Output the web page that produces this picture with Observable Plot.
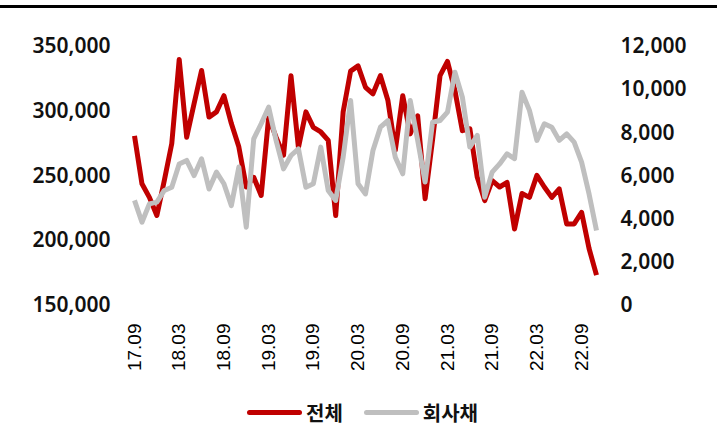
<!DOCTYPE html>
<html>
<head>
<meta charset="utf-8">
<script src="https://cdn.jsdelivr.net/npm/d3@7"></script>
<script src="https://cdn.jsdelivr.net/npm/@observablehq/plot@0.6"></script>
<style>
  html, body { margin: 0; padding: 0; background: #fff; }
  #wrap { position: relative; width: 717px; height: 436px; overflow: hidden; background: #fff; }
  #topline { position: absolute; left: 0; top: 5px; width: 717px; height: 3px; background: #000; }
  #chart svg { display: block; }
  #legend { position: absolute; left: 4px; top: 390px; width: 717px; height: 44px; display: flex; justify-content: center; align-items: center; font-family: "Noto Sans CJK KR", "Noto Sans", sans-serif; font-weight: 700; font-size: 20px; color: #111; }
  .item { display: flex; align-items: center; }
  .sw { width: 55px; height: 5px; border-radius: 3px; margin-right: 4px; }
</style>
</head>
<body>
<div id="wrap">
  <div id="chart"></div>
  <div id="topline"></div>
  <div id="legend"></div>
</div>
<script>
const months = [
  "17.09","17.10","17.11","17.12",
  "18.01","18.02","18.03","18.04","18.05","18.06","18.07","18.08","18.09","18.10","18.11","18.12",
  "19.01","19.02","19.03","19.04","19.05","19.06","19.07","19.08","19.09","19.10","19.11","19.12",
  "20.01","20.02","20.03","20.04","20.05","20.06","20.07","20.08","20.09","20.10","20.11","20.12",
  "21.01","21.02","21.03","21.04","21.05","21.06","21.07","21.08","21.09","21.10","21.11","21.12",
  "22.01","22.02","22.03","22.04","22.05","22.06","22.07","22.08","22.09","22.10","22.11"
];
const xTicks = ["17.09","18.03","18.09","19.03","19.09","20.03","20.09","21.03","21.09","22.03","22.09"];

// 전체 (left axis)
const total = [
  281000, 244000, 233500, 219500, 246500, 275000, 340000, 280000, 306000, 331500,
  295500, 299500, 312000, 290500, 272500, 241500, 249000, 235000, 295000, 280000,
  266000, 327500, 272000, 299500, 287500, 284000, 277500, 219500, 299500, 331000,
  335000, 318500, 313500, 327500, 308500, 270000, 312000, 282500, 296500, 232500,
  278000, 327500, 338500, 316000, 285000, 286500, 249000, 231000, 246500, 241500,
  245000, 209000, 236500, 233500, 250500, 241500, 233500, 240000, 213000, 213000,
  222000, 194000, 173500
];
// 회사채 (right axis)
const corp = [
  4870, 3860, 4710, 4790, 5330, 5480, 6560, 6720, 6020, 6800,
  5400, 6180, 5640, 4630, 6410, 3630, 7720, 8420, 9190, 7650,
  6330, 6950, 7260, 5480, 5640, 7340, 5330, 4870, 6870, 9500,
  5640, 5170, 7180, 8260, 8570, 6870, 6100, 9500, 7650, 5720,
  8490, 8570, 8960, 10810, 9650, 7340, 7880, 5020, 6180, 6560,
  7030, 6800, 9880, 9040, 7650, 8420, 8260, 7650, 7950, 7570,
  6640, 5170, 3480
];

const leftTicks = [150000, 200000, 250000, 300000, 350000];
const rightTicks = [0, 2000, 4000, 6000, 8000, 10000, 12000];
const leftDomain = [150000, 350000];
const rightDomain = [0, 12000];

const toLeft = v => leftDomain[0] + (v - rightDomain[0]) * (leftDomain[1] - leftDomain[0]) / (rightDomain[1] - rightDomain[0]);
const toRight = v => rightDomain[0] + (v - leftDomain[0]) * (rightDomain[1] - rightDomain[0]) / (leftDomain[1] - leftDomain[0]);
const fmt = d3.format(",");

const totalData = total.map((v, i) => ({m: months[i], v}));
const corpData = corp.map((v, i) => ({m: months[i], v: toLeft(v)}));

const numFont = {fontFamily: "'Noto Sans', sans-serif", fontSize: 21, fontWeight: 600, fill: "#111"};

const chart = Plot.plot({
  width: 717,
  height: 390,
  marginLeft: 134,
  marginRight: 121,
  marginTop: 46,
  marginBottom: 85,
  style: {background: "transparent", overflow: "visible"},
  x: {type: "point", domain: months, padding: 0, round: false},
  y: {domain: leftDomain},
  marks: [
    Plot.axisX({ticks: xTicks, tickRotate: -90, tickSize: 0, tickPadding: 18, fontSize: 19, fontFamily: "'Liberation Sans', Arial, sans-serif", fill: "#000", label: null}),
    Plot.axisY({anchor: "left", ticks: leftTicks, tickSize: 0, tickPadding: 24, tickFormat: d => fmt(d), label: null, ...numFont}),
    Plot.axisY({anchor: "right", ticks: rightTicks.map(toLeft), tickSize: 0, tickPadding: 24, tickFormat: d => fmt(Math.round(toRight(d))), label: null, ...numFont}),
    Plot.line(totalData, {x: "m", y: "v", stroke: "#C00000", strokeWidth: 5, strokeLinejoin: "round", strokeLinecap: "butt"}),
    Plot.line(corpData, {x: "m", y: "v", stroke: "#BFBFBF", strokeWidth: 5, strokeLinejoin: "round", strokeLinecap: "butt"})
  ]
});
document.getElementById("chart").appendChild(chart);

const legendItems = [
  {name: "전체", color: "#C00000"},
  {name: "회사채", color: "#BFBFBF"}
];
const legend = document.getElementById("legend");
legendItems.forEach((it, i) => {
  const div = document.createElement("div");
  div.className = "item";
  if (i > 0) div.style.marginLeft = "21px";
  const sw = document.createElement("div");
  sw.className = "sw";
  sw.style.background = it.color;
  const t = document.createElement("span");
  t.textContent = it.name;
  div.appendChild(sw);
  div.appendChild(t);
  legend.appendChild(div);
});
</script>
</body>
</html>
